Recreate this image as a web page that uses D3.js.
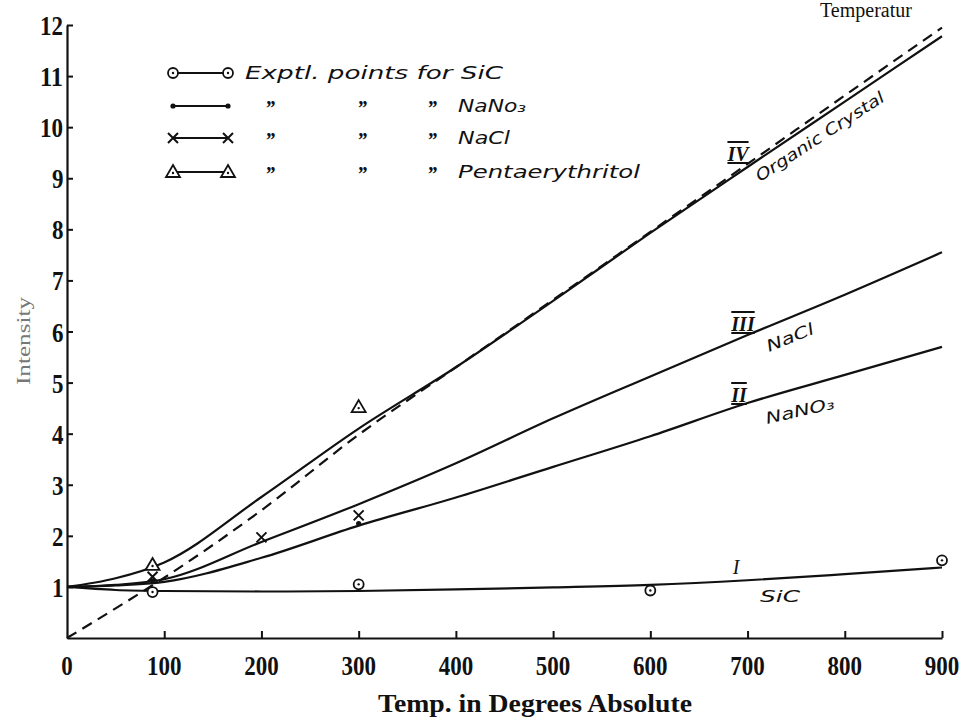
<!DOCTYPE html>
<html><head><meta charset="utf-8">
<script src="https://cdn.jsdelivr.net/npm/d3@7"></script>
<style>
html,body{margin:0;padding:0;background:#fff;}
svg{display:block;}
</style></head>
<body>
<svg id="chart" width="964" height="719"></svg>
<script>
// ---- data ----
const temps = [0, 50, 100, 200, 300, 400, 500, 600, 700, 800, 900];
const curveSiC = [1.0, 0.94, 0.92, 0.91, 0.92, 0.95, 0.99, 1.04, 1.13, 1.25, 1.38];
const curveNaNO3 = [1.0, 1.03, 1.1, 1.57, 2.2, 2.75, 3.35, 3.95, 4.6, 5.15, 5.7];
const curveNaCl = [1.0, 1.04, 1.15, 1.88, 2.62, 3.42, 4.3, 5.12, 5.93, 6.72, 7.55];
const curveOrganic = [1.0, 1.17, 1.48, 2.76, 4.1, 5.3, 6.6, 7.93, 9.22, 10.5, 11.78];
const curveDashed = [0.0, 0.58, 1.18, 2.5, 3.98, 5.3, 6.62, 7.95, 9.28, 10.62, 11.95];

const ptsSiC = [[88, 0.9], [300, 1.05], [600, 0.93], [900, 1.52]];
const ptsNaNO3 = [[88, 1.12], [300, 2.24]];
const ptsNaCl = [[88, 1.2], [200, 1.97], [300, 2.4]];
const ptsPenta = [[88, 1.43], [300, 4.52]];

const xTicks = [0, 100, 200, 300, 400, 500, 600, 700, 800, 900];
const yTicks = [1, 2, 3, 4, 5, 6, 7, 8, 9, 10, 11, 12];

// ---- setup ----
const svg = d3.select("#chart");
const ink = "#111";
const x = d3.scaleLinear().domain([0, 900]).range([67, 942]);
const y = d3.scaleLinear().domain([0, 12]).range([638, 25]);

// top title fragment
svg.append("text").attr("x", 820).attr("y", 17)
  .attr("font-family", "Liberation Serif").attr("font-size", 20)
  .attr("fill", ink).text("Temperatur");

// axes
const xAxis = d3.axisBottom(x).tickValues(xTicks.slice(1)).tickSizeInner(-7).tickSizeOuter(0).tickFormat("");
const gx = svg.append("g").attr("transform", `translate(0,${y(0)})`).call(xAxis);
const yAxis = d3.axisLeft(y).tickValues(yTicks).tickSizeInner(-6).tickSizeOuter(0).tickFormat("");
const gy = svg.append("g").attr("transform", `translate(${x(0)},0)`).call(yAxis);
[gx, gy].forEach(g => {
  g.select(".domain").attr("stroke", ink).attr("stroke-width", 2.2);
  g.selectAll(".tick line").attr("stroke", ink).attr("stroke-width", 2);
});

// tick labels
svg.append("g").selectAll("text").data(xTicks).join("text")
  .attr("x", d => x(d)).attr("y", 675)
  .attr("text-anchor", "middle")
  .attr("font-family", "Liberation Serif").attr("font-weight", "bold").attr("font-size", 27)
  .attr("textLength", d => String(d).length * 11.5).attr("lengthAdjust", "spacingAndGlyphs")
  .attr("fill", ink).text(d => d);

svg.append("g").selectAll("text").data(yTicks).join("text")
  .attr("x", d => 64 - String(d).length * 12).attr("y", d => y(d) + 10)
  .attr("font-family", "Liberation Serif").attr("font-weight", "bold").attr("font-size", 27)
  .attr("textLength", d => String(d).length * 11.5).attr("lengthAdjust", "spacingAndGlyphs")
  .attr("fill", ink).text(d => d);

// axis titles
svg.append("text").attr("x", 378).attr("y", 712)
  .attr("font-family", "Liberation Serif").attr("font-weight", "bold").attr("font-size", 26)
  .attr("textLength", 314).attr("lengthAdjust", "spacingAndGlyphs")
  .attr("fill", ink).text("Temp. in Degrees Absolute");

svg.append("text").attr("transform", "translate(30,385) rotate(-90)")
  .attr("font-family", "Liberation Serif").attr("font-size", 19)
  .attr("textLength", 88).attr("lengthAdjust", "spacingAndGlyphs")
  .attr("fill", "#777").text("Intensity");

// curves
const line = d3.line().x(d => x(d[0])).y(d => y(d[1])).curve(d3.curveMonotoneX);
const series = [curveSiC, curveNaNO3, curveNaCl, curveOrganic];
series.forEach(vals => {
  svg.append("path").datum(temps.map((t, i) => [t, vals[i]]))
    .attr("d", line).attr("fill", "none").attr("stroke", ink).attr("stroke-width", 2.2);
});
svg.append("path").datum(temps.map((t, i) => [t, curveDashed[i]]))
  .attr("d", line).attr("fill", "none").attr("stroke", ink).attr("stroke-width", 2.2)
  .attr("stroke-dasharray", "11,7");

// markers
function circleMark(g, cx, cy) {
  g.append("circle").attr("cx", cx).attr("cy", cy).attr("r", 5).attr("fill", "#fff").attr("stroke", ink).attr("stroke-width", 1.8);
  g.append("circle").attr("cx", cx).attr("cy", cy).attr("r", 1.2).attr("fill", ink);
}
function dotMark(g, cx, cy) {
  g.append("circle").attr("cx", cx).attr("cy", cy).attr("r", 2.6).attr("fill", ink);
}
function crossMark(g, cx, cy) {
  g.append("path").attr("d", `M${cx-5},${cy-5}L${cx+5},${cy+5}M${cx-5},${cy+5}L${cx+5},${cy-5}`)
    .attr("stroke", ink).attr("stroke-width", 2);
}
function triMark(g, cx, cy) {
  g.append("path").attr("d", `M${cx},${cy-7}L${cx+7},${cy+5}L${cx-7},${cy+5}Z`)
    .attr("fill", "#fff").attr("stroke", ink).attr("stroke-width", 1.8);
  g.append("circle").attr("cx", cx).attr("cy", cy + 1).attr("r", 1.2).attr("fill", ink);
}
const gm = svg.append("g");
ptsSiC.forEach(p => circleMark(gm, x(p[0]), y(p[1])));
ptsNaNO3.forEach(p => dotMark(gm, x(p[0]), y(p[1])));
ptsNaCl.forEach(p => crossMark(gm, x(p[0]), y(p[1])));
ptsPenta.forEach(p => triMark(gm, x(p[0]), y(p[1])));

// legend
const legend = [
  {mark: circleMark, name: "Exptl. points for SiC", ditto: false, len: 258},
  {mark: dotMark, name: "NaNo₃", ditto: true, len: 68},
  {mark: crossMark, name: "NaCl", ditto: true, len: 52},
  {mark: triMark, name: "Pentaerythritol", ditto: true, len: 182}
];
const legY = [73, 106, 138, 172];
const gl = svg.append("g");
legend.forEach((d, i) => {
  const ly = legY[i];
  gl.append("line").attr("x1", 173).attr("x2", 228).attr("y1", ly).attr("y2", ly)
    .attr("stroke", ink).attr("stroke-width", 2);
  d.mark(gl, 173, ly);
  d.mark(gl, 228, ly);
  if (!d.ditto) {
    gl.append("text").attr("x", 245).attr("y", ly + 6)
      .attr("font-family", "DejaVu Sans").attr("font-style", "italic").attr("font-size", 17)
      .attr("textLength", d.len).attr("lengthAdjust", "spacingAndGlyphs")
      .attr("fill", ink).text(d.name);
  } else {
    [265, 357, 427].forEach(dx => gl.append("text").attr("x", dx).attr("y", ly + 9)
      .attr("font-family", "Liberation Serif").attr("font-style", "italic").attr("font-weight", "bold")
      .attr("font-size", 20).attr("fill", ink).text("\u201D"));
    gl.append("text").attr("x", 458).attr("y", ly + 6)
      .attr("font-family", "DejaVu Sans").attr("font-style", "italic").attr("font-size", 17)
      .attr("textLength", d.len).attr("lengthAdjust", "spacingAndGlyphs")
      .attr("fill", ink).text(d.name);
  }
});

// curve annotations
function rom(txt, cx, cy) {
  svg.append("text").attr("x", cx).attr("y", cy).attr("text-anchor", "middle")
    .attr("font-family", "Liberation Serif").attr("font-style", "italic").attr("font-weight", "bold")
    .attr("font-size", 20).attr("fill", ink).attr("text-decoration", "overline underline").text(txt);
}
function hand(txt, cx, cy, ang, len) {
  svg.append("text").attr("transform", `translate(${cx},${cy}) rotate(${ang})`)
    .attr("font-family", "DejaVu Sans").attr("font-style", "italic").attr("font-size", 16)
    .attr("textLength", len).attr("lengthAdjust", "spacingAndGlyphs")
    .attr("fill", ink).text(txt);
}
rom("IV", 738, 161);
hand("Organic Crystal", 760, 182, -33, 150);
rom("III", 743, 331);
hand("NaCl", 769, 352, -22, 50);
rom("II", 739, 402);
hand("NaNO₃", 767, 424, -13, 70);
svg.append("text").attr("x", 736).attr("y", 574).attr("text-anchor", "middle")
  .attr("font-family", "Liberation Serif").attr("font-style", "italic").attr("font-size", 20)
  .attr("fill", ink).text("I");
hand("SiC", 760, 602, 0, 40);
</script>
</body></html>
